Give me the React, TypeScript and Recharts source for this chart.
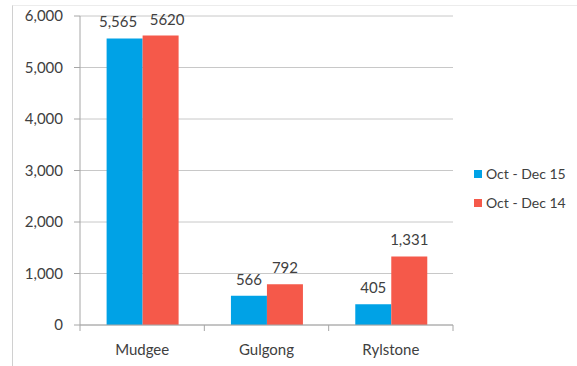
import React from 'react';
import { BarChart, Bar, XAxis, YAxis, CartesianGrid, LabelList } from 'recharts';

const towns = ['Mudgee', 'Gulgong', 'Rylstone'];
const oct15 = [5565, 566, 405];
const oct14 = [5620, 792, 1331];
const oct15Labels = ['5,565', '566', '405'];
const oct14Labels = ['5620', '792', '1,331'];
const seriesNames = ['Oct - Dec 15', 'Oct - Dec 14'];
const yTicks = [0, 1000, 2000, 3000, 4000, 5000, 6000];

const data = towns.map((town, i) => ({
  town,
  q15: oct15[i],
  q14: oct14[i],
  l15: oct15Labels[i],
  l14: oct14Labels[i],
}));

const FONT = 'Lato, "Open Sans", sans-serif';
const TEXT = '#404040';
const BLUE = '#00a2e6';
const RED = '#f5594a';
const AXIS = '#a6a6a6';

const CategoryTick = (props: any) => {
  const { x, y, payload, index } = props;
  const half = payload && payload.offset ? payload.offset : 62;
  return (
    <g>
      <line x1={x - half} y1={y - 8} x2={x - half} y2={y - 2} stroke={AXIS} />
      {index === towns.length - 1 && (
        <line x1={x + half} y1={y - 8} x2={x + half} y2={y - 2} stroke={AXIS} />
      )}
      <text x={x} y={y + 22} textAnchor="middle" fill={TEXT} fontSize={15} fontFamily={FONT}>
        {payload.value}
      </text>
    </g>
  );
};

// value label above a bar; the first group's labels are pushed apart so they don't collide
const makeLabel = (dir: number) => (props: any) => {
  const { x, y, width, value, index } = props;
  const shift = index === 0 ? dir * 6.5 : 0;
  return (
    <text
      x={x + width / 2 + shift}
      y={y - 11}
      textAnchor="middle"
      fill={TEXT}
      fontSize={15}
      fontFamily={FONT}
    >
      {value}
    </text>
  );
};

export default function App() {
  return (
    <div style={{ position: 'absolute', left: 0, top: 0, width: 577, height: 366, background: '#fff' }}>
      <div
        style={{
          position: 'absolute',
          left: 12,
          top: 5,
          width: 565,
          height: 361,
          borderLeft: '1px solid #d0d0d0',
          borderTop: '1px solid #ececec',
        }}
      />
      <BarChart
        width={577}
        height={366}
        data={data}
        margin={{ top: 16, right: 124, bottom: 11, left: 12 }}
        barCategoryGap="21.4%"
        barGap={0}
      >
        <CartesianGrid vertical={false} stroke="#c8c8c8" />
        <XAxis
          dataKey="town"
          height={30}
          stroke={AXIS}
          tickLine={false}
          tick={<CategoryTick />}
          interval={0}
        />
        <YAxis
          width={68}
          domain={[0, 6000]}
          ticks={yTicks}
          stroke={AXIS}
          tickSize={6}
          tickMargin={11}
          tick={{ fill: TEXT, fontSize: 15, fontFamily: FONT }}
          tickFormatter={(v: number) => v.toLocaleString('en-US')}
        />
        <Bar dataKey="q15" fill={BLUE} isAnimationActive={false}>
          <LabelList dataKey="l15" content={makeLabel(-1)} />
        </Bar>
        <Bar dataKey="q14" fill={RED} isAnimationActive={false}>
          <LabelList dataKey="l14" content={makeLabel(1)} />
        </Bar>
      </BarChart>
      <div
        style={{
          position: 'absolute',
          left: 474,
          top: 159,
          fontFamily: FONT,
          fontSize: 14,
          color: TEXT,
        }}
      >
        {seriesNames.map((name, i) => (
          <div key={name} style={{ display: 'flex', alignItems: 'center', height: 29 }}>
            <span
              style={{
                width: 8,
                height: 8,
                background: i === 0 ? BLUE : RED,
                marginRight: 4,
                display: 'inline-block',
              }}
            />
            {name}
          </div>
        ))}
      </div>
    </div>
  );
}
